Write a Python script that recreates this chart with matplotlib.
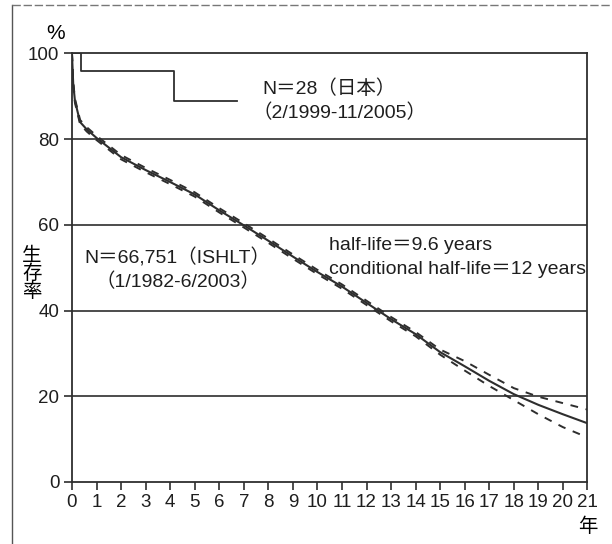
import matplotlib
matplotlib.use('Agg')
import matplotlib.pyplot as plt
from matplotlib.lines import Line2D

plt.rcParams['font.family'] = ['Liberation Sans', 'Noto Sans CJK JP']

# ISHLT survival (years, %)
years = [0, 0.05, 0.12, 0.33, 0.6, 1, 2, 3, 4, 5, 6, 7, 8, 9, 10,
         11, 12, 13, 14, 15, 16, 17, 18, 19, 20, 21]
ishlt = [100, 93, 89, 84, 82.3, 80.3, 75.8, 72.8, 70, 67.1, 63.4, 59.9, 56.3, 52.6, 49,
         45.6, 41.8, 38, 34.5, 30.3, 27, 23.6, 20.5, 18, 15.8, 13.7]
ishlt_upper = [100, 93.4, 89.5, 84.5, 82.8, 80.8, 76.3, 73.3, 70.5, 67.6, 63.9, 60.4, 56.8, 53.1, 49.5,
               46.1, 42.3, 38.5, 35.0, 30.9, 28.2, 25.0, 21.9, 19.9, 18.4, 16.9]
ishlt_lower = [100, 92.6, 88.5, 83.5, 81.8, 79.8, 75.3, 72.3, 69.5, 66.6, 62.9, 59.4, 55.8, 52.1, 48.5,
               45.1, 41.3, 37.5, 34.0, 29.7, 26.0, 22.4, 19.1, 15.8, 12.8, 10.4]

# Japan (N=28) step curve
jp_years = [0, 0.38, 4.16, 6.73]
jp_surv = [100, 95.8, 88.8, 88.8]

xticks = list(range(0, 22))
yticks = [0, 20, 40, 60, 80, 100]

ink = '#2e2e2e'

fig = plt.figure(figsize=(6.12, 5.44), dpi=100)
ax = fig.add_axes([0.1176, 0.114, 0.8423, 0.7877])

for g in [20, 40, 60, 80]:
    ax.axhline(g, color=ink, lw=1.2, zorder=1)

ax.plot(years, ishlt, color=ink, lw=1.5, zorder=3)
ax.plot(years, ishlt_upper, color=ink, lw=1.4, dashes=(4, 4), zorder=3)
ax.plot(years, ishlt_lower, color=ink, lw=1.4, dashes=(4, 4), zorder=3)
ax.step(jp_years, jp_surv, where='post', color=ink, lw=1.3, zorder=3)

ax.set_xlim(0, 21)
ax.set_ylim(0, 100)
ax.set_xticks(xticks)
ax.set_yticks(yticks)
ax.tick_params(axis='both', direction='out', length=6, width=1.2, color=ink,
               labelsize=13.5, labelcolor='#1e1e1e', pad=3)
for sp in ax.spines.values():
    sp.set_color(ink)
    sp.set_linewidth(1.3)

txt = dict(fontsize=14, color='#1e1e1e', va='center', ha='left')
ax.text(7.75, 91.7, 'N＝28（日本）', **txt)
ax.text(7.34, 86.1, '（2/1999-11/2005）', **txt)
ax.text(0.49, 52.4, 'N＝66,751（ISHLT）', **txt)
ax.text(0.97, 46.8, '（1/1982-6/2003）', **txt)
ax.text(10.48, 55.3, 'half-life＝9.6 years', **txt)
ax.text(10.48, 49.5, 'conditional half-life＝12 years', **txt)

ax.text(-0.67, 104.7, '%', fontsize=15, ha='center', va='center', clip_on=False)
ax.text(-1.64, 48.5, '生\n存\n率', fontsize=14, ha='center', va='center',
        linespacing=0.95, clip_on=False)
ax.text(21, -10.4, '年', fontsize=14, ha='center', va='center', clip_on=False)

# scanned page frame
fig.add_artist(Line2D([11.7 / 612, 11.7 / 612], [0, 1 - 5 / 544], color='#555555', lw=1.0))
fig.add_artist(Line2D([11.7 / 612, 1], [1 - 5 / 544, 1 - 5 / 544], color='#777777', lw=1.0,
                      dashes=(6, 2)))

fig.savefig('out.png', dpi=100)
